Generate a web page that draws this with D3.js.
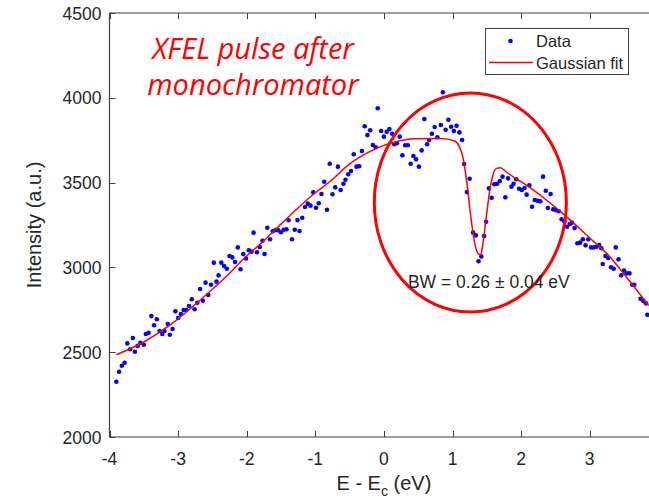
<!DOCTYPE html>
<html><head><meta charset="utf-8">
<script src="https://cdn.jsdelivr.net/npm/d3@7/dist/d3.min.js"></script>
<style>
html,body{margin:0;padding:0;background:#fff;}
svg{display:block;}
</style></head>
<body><svg id="c" width="649" height="501"></svg>
<script>
// ---- data ----
const dataE = [-3.90,-3.86,-3.82,-3.78,-3.74,-3.70,-3.66,-3.63,-3.59,-3.55,-3.50,-3.47,-3.43,-3.39,-3.35,-3.31,-3.27,-3.23,-3.20,-3.15,-3.12,-3.08,-3.04,-3.00,-2.96,-2.92,-2.88,-2.84,-2.80,-2.76,-2.72,-2.68,-2.64,-2.60,-2.56,-2.52,-2.48,-2.44,-2.41,-2.37,-2.33,-2.29,-2.25,-2.21,-2.17,-2.13,-2.09,-2.05,
-2.01,-1.97,-1.93,-1.90,-1.85,-1.81,-1.77,-1.74,-1.70,-1.66,-1.62,-1.58,-1.54,-1.50,-1.46,-1.42,-1.39,-1.34,-1.30,-1.26,-1.23,-1.19,-1.15,-1.11,-1.07,-1.03,-0.99,-0.95,-0.91,-0.87,-0.83,-0.79,-0.75,-0.71,-0.67,-0.63,-0.59,-0.56,-0.52,-0.48,-0.44,-0.40,-0.36,-0.32,-0.28,-0.24,-0.20,-0.16,-0.12,-0.09,
-0.04,0.00,0.04,0.08,0.12,0.15,0.19,0.23,0.27,0.31,0.35,0.39,0.43,0.47,0.51,0.55,0.59,0.63,0.66,0.70,0.74,0.78,0.83,0.86,0.90,0.94,0.98,1.02,1.06,1.10,1.14,1.17,1.21,1.25,1.30,1.34,1.38,1.42,1.46,1.49,1.53,1.57,1.61,1.65,1.69,1.73,1.77,1.81,1.86,1.89,
1.93,1.97,2.01,2.05,2.08,2.12,2.16,2.20,2.24,2.28,2.32,2.36,2.39,2.43,2.47,2.51,2.55,2.59,2.63,2.67,2.71,2.74,2.78,2.82,2.86,2.90,2.94,2.98,3.02,3.06,3.10,3.14,3.17,3.19,3.23,3.27,3.31,3.35,3.38,3.42,3.46,3.50,3.54,3.58,3.62,3.65,3.74,3.78,3.82,3.84];
const dataI = [2326,2385,2420,2438,2552,2517,2584,2503,2537,2556,2544,2607,2615,2713,2659,2694,2625,2607,2625,2666,2603,2637,2741,2702,2725,2749,2749,2772,2812,2753,2792,2873,2804,2910,2837,2898,3028,2916,2953,3028,3008,2992,3067,3059,3032,3118,2989,3079,
3053,3101,3093,3205,3089,3120,3157,3079,3234,3166,3213,3220,3219,3207,3222,3225,3278,3166,3222,3279,3215,3293,3356,3376,3364,3443,3352,3378,3433,3505,3340,3611,3431,3472,3594,3456,3493,3517,3549,3568,3667,3594,3596,3686,3832,3780,3808,3722,3708,3938,
3804,3771,3800,3816,3788,3726,3732,3771,3661,3720,3720,3611,3657,3637,3594,3690,3875,3726,3751,3788,3828,3767,3840,4032,3812,3871,3829,3804,3835,3796,3751,3610,3444,3523,3205,3189,3036,3065,3185,3269,3466,3411,3490,3493,3509,3535,3413,3525,3476,3493,
3520,3464,3456,3468,3429,3484,3358,3397,3393,3390,3535,3452,3350,3433,3342,3338,3331,3284,3272,3240,3256,3264,3232,3142,3146,3166,3130,3166,3118,3118,3122,3132,3113,3020,3067,3055,3001,2992,3118,3048,2953,2981,2965,2965,2898,2898,2815,2804,2788,2721];

const fitE = [-3.90,-3.50,-3.10,-2.70,-2.25,-2.06,-1.77,-1.50,-1.28,-1.00,-0.79,-0.50,-0.31,-0.09,0.15,0.45,0.84,1.03,1.10,1.15,1.18,1.22,1.27,1.32,1.37,1.41,1.44,1.49,1.54,1.59,1.64,1.70,1.78,1.90,2.11,2.40,2.69,2.98,3.27,3.56,3.86];
const fitI = [2485,2560,2665,2800,2965,3045,3150,3255,3340,3440,3505,3610,3660,3705,3738,3758,3760,3745,3712,3653,3584,3466,3289,3151,3083,3073,3132,3289,3446,3545,3584,3588,3564,3530,3476,3387,3289,3181,3073,2930,2775];

const xTicks = [-4,-3,-2,-1,0,1,2,3,4];
const xTickLabels = ["-4","-3","-2","-1","0","1","2","3",""];
const yTicks = [2000,2500,3000,3500,4000,4500];
const titleLines = ["XFEL pulse after","monochromator"];
const legendLabels = ["Data","Gaussian fit"];
const bwLabel = "BW = 0.26 \u00B1 0.04 eV";
// annotation ellipse: centre (eV, a.u.) and half-widths
const ellipseCenter = [1.26, 3383];
const ellipseHalf = [1.40, 646];
const bwAnchor = [0.35, 2880];

// ---- layout ----
const L = 109.5, T = 13, B = 437, unit = 68.6;
const x = d3.scaleLinear().domain([-4, 4]).range([L, L + 8 * unit]);
const y = d3.scaleLinear().domain([2000, 4500]).range([B, T]);
const svg = d3.select("#c");
const axisCol = "#262626";
const font = "'Liberation Sans', Arial, Helvetica, sans-serif";

// frame
const R = x(4);
svg.append("path").attr("d", `M${L},${B}H${R}M${L},${B}V${T}H${R}`)
  .attr("fill","none").attr("stroke","#404040").attr("stroke-width",1.2);

// ticks (inward)
const tl = 6;
xTicks.forEach((t,i) => {
  const px = Math.round(x(t)) + 0.5;
  svg.append("line").attr("x1",px).attr("x2",px).attr("y1",B).attr("y2",B-tl).attr("stroke","#404040");
  svg.append("line").attr("x1",px).attr("x2",px).attr("y1",T).attr("y2",T+tl).attr("stroke","#404040");
  if (xTickLabels[i]) svg.append("text").attr("x",x(t)).attr("y",B+28).attr("text-anchor","middle")
    .attr("font-family",font).attr("font-size",17.5).attr("fill",axisCol).text(xTickLabels[i]);
});
yTicks.forEach(t => {
  const py = Math.round(y(t)) + 0.5;
  svg.append("line").attr("x1",L).attr("x2",L+tl).attr("y1",py).attr("y2",py).attr("stroke","#404040");
  svg.append("text").attr("x",L-8).attr("y",y(t)+6.5).attr("text-anchor","end")
    .attr("font-family",font).attr("font-size",17.5).attr("fill",axisCol).text(t);
});

// axis titles
const xt = svg.append("text").attr("x",x(0)).attr("y",490).attr("text-anchor","middle")
  .attr("font-family",font).attr("font-size",20).attr("fill",axisCol);
xt.append("tspan").text("E - E");
xt.append("tspan").attr("dy",6).attr("font-size",14).text("c");
xt.append("tspan").attr("dy",-6).text(" (eV)");
svg.append("text").attr("transform",`translate(41,${(T+B)/2}) rotate(-90)`).attr("text-anchor","middle")
  .attr("font-family",font).attr("font-size",20).attr("fill",axisCol).text("Intensity (a.u.)");

// clip
svg.append("clipPath").attr("id","clip").append("rect").attr("x",L).attr("y",T).attr("width",R-L).attr("height",B-T);
const g = svg.append("g").attr("clip-path","url(#clip)");

// data dots
g.selectAll("circle.d").data(dataE).join("circle").attr("class","d")
  .attr("cx",(d)=>x(d)).attr("cy",(d,i)=>y(dataI[i])).attr("r",2.3).attr("fill","#0000ff");

// fit line
const line = d3.line().x(d=>x(d[0])).y(d=>y(d[1])).curve(d3.curveMonotoneX);
g.append("path").datum(fitE.map((e,i)=>[e,fitI[i]])).attr("d",line)
  .attr("fill","none").attr("stroke","#ff0000").attr("stroke-width",1.5);

// ellipse annotation
svg.append("ellipse").attr("cx",x(ellipseCenter[0])).attr("cy",y(ellipseCenter[1]))
  .attr("rx",x(ellipseHalf[0])-x(0)).attr("ry",y(0)-y(ellipseHalf[1]))
  .attr("fill","none").attr("stroke","#ff0000").attr("stroke-width",3);

svg.append("text").attr("x",x(bwAnchor[0])).attr("y",y(bwAnchor[1])).attr("font-family",font)
  .attr("font-size",17.5).attr("fill","#262626").text(bwLabel);

// title
titleLines.forEach((s,i)=>{
  svg.append("text").attr("x",253).attr("y",59+i*36).attr("text-anchor","middle")
    .attr("font-family","'Open Sans', sans-serif").attr("font-style","italic")
    .attr("font-size",29).attr("fill","#ff0000").text(s);
});

// legend
const lg = svg.append("g");
lg.append("rect").attr("x",485.5).attr("y",28.5).attr("width",143).attr("height",46)
  .attr("fill","#fff").attr("stroke","#404040").attr("stroke-width",1);
lg.append("circle").attr("cx",510.5).attr("cy",41).attr("r",2.3).attr("fill","#0000ff");
lg.append("line").attr("x1",489).attr("x2",533).attr("y1",62.5).attr("y2",62.5).attr("stroke","#ff0000").attr("stroke-width",1.5);
legendLabels.forEach((s,i)=>{
  lg.append("text").attr("x",536).attr("y",47+i*21.5).attr("font-family",font).attr("font-size",16.5)
    .attr("fill","#262626").text(s);
});
</script></body></html>
